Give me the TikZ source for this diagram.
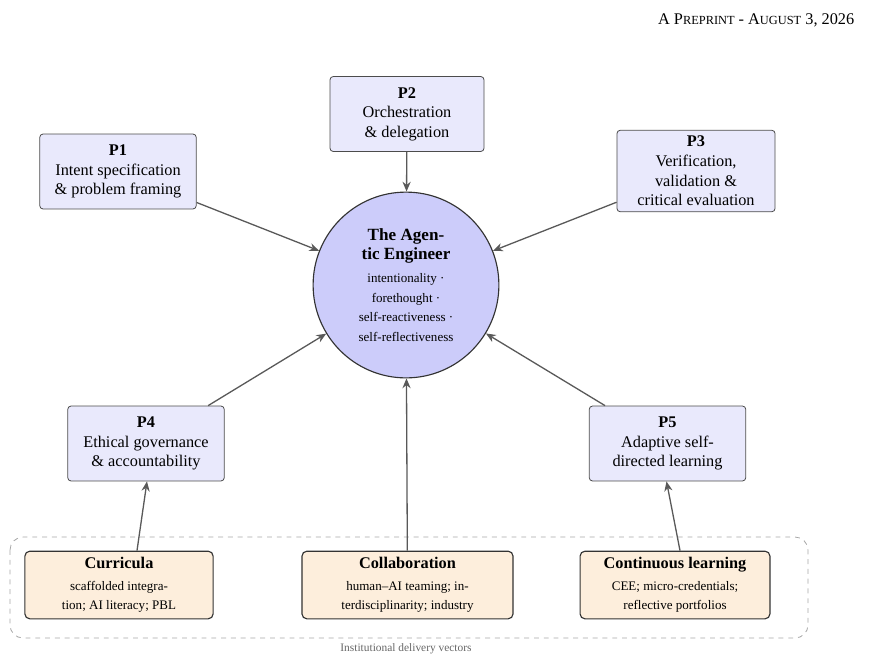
\documentclass[tikz,border=0pt]{standalone}
\usepackage{fontspec}
\setmainfont{Liberation Serif}
\usetikzlibrary{arrows.meta,calc}
\definecolor{pbox}{HTML}{E9E9FC}
\definecolor{pcirc}{HTML}{CCCCFA}
\definecolor{obox}{HTML}{FDEEDC}
\newcommand{\fsc}[1]{{\fontsize{7.6pt}{9pt}\selectfont #1}}
\newcommand{\ctit}[1]{{\fontsize{10.5pt}{12.5pt}\selectfont\bfseries #1}}
\begin{document}
\begin{tikzpicture}[x=0.6136pt,y=-0.6136pt,
  pb/.style={draw=black!70,fill=pbox,rounded corners=2pt,align=center,inner sep=0pt,minimum height=46pt,line width=0.5pt},
  ob/.style={draw=black!80,fill=obox,rounded corners=3pt,align=center,inner sep=0pt,minimum height=41.5pt,line width=0.7pt},
  ar/.style={-{Stealth[length=6pt,width=5pt]},draw=black!65,line width=0.8pt}]
\useasboundingbox (0,0) rectangle (880,662);
\node[anchor=east] (hdr) at (860,20) {A P\fsc{REPRINT} - A\fsc{UGUST} 3, 2026};
\node[circle,draw=black!80,fill=pcirc,line width=0.7pt,minimum size=114pt,inner sep=0pt,align=center] (c) at (406,285)
 {\ctit{The Agen-}\\\ctit{tic Engineer}\\[2pt]{\footnotesize intentionality ·}\\{\footnotesize forethought ·}\\{\footnotesize self-reactiveness ·}\\{\footnotesize self-reflectiveness}};
\node[pb,minimum width=94.5pt] (p2) at (407,114) {\textbf{P2}\\Orchestration\\\& delegation};
\node[pb,minimum width=96pt] (p1) at (118,171.5) {\textbf{P1}\\Intent specification\\\& problem framing};
\node[pb,minimum width=97pt,minimum height=50pt] (p3) at (696,171) {\textbf{P3}\\Verification,\\validation \&\\critical evaluation};
\node[pb,minimum width=96pt] (p4) at (146,443.5) {\textbf{P4}\\Ethical governance\\\& accountability};
\node[pb,minimum width=96pt] (p5) at (667.5,443.5) {\textbf{P5}\\Adaptive self-\\directed learning};
\draw[dashed,draw=black!35,rounded corners=8pt,line width=0.5pt] (10,537) rectangle (808,638);
\node[font=\scriptsize,text=black!60] (lbl) at (406,649) {Institutional delivery vectors};
\node[ob,minimum width=115.5pt] (cu) at (119,585) {\textbf{Curricula}\\[1pt]{\footnotesize scaffolded integra-}\\{\footnotesize tion; AI literacy; PBL}};
\node[ob,minimum width=129.5pt] (co) at (407.5,585) {\textbf{Collaboration}\\[1pt]{\footnotesize human–AI teaming; in-}\\{\footnotesize terdisciplinarity; industry}};
\node[ob,minimum width=116.5pt] (cl) at (675,585) {\textbf{Continuous learning}\\[1pt]{\footnotesize CEE; micro-credentials;}\\{\footnotesize reflective portfolios}};
\draw[ar] (p2) -- (c);
\draw[ar] (p1) -- (c);
\draw[ar] (p3) -- (c);
\draw[ar] (p4) -- (c);
\draw[ar] (p5) -- (c);
\draw[ar] (co) -- (c);
\draw[ar] ($(cu.north)+(18,0)$) -- ($(p4.south)+(1,0)$);
\draw[ar] ($(cl.north)+(5,0)$) -- ($(p5.south)+(-1,0)$);
\end{tikzpicture}
\end{document}
